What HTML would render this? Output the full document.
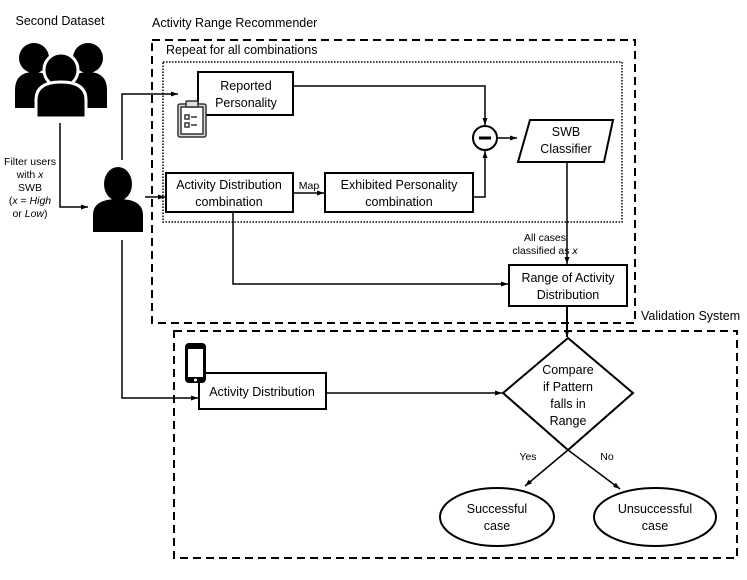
<!DOCTYPE html>
<html><head><meta charset="utf-8"><style>
body{margin:0;background:#fff}
svg{display:block}
text{font-family:"Liberation Sans",sans-serif;font-size:12.5px;fill:#000}
</style></head><body>
<svg width="747" height="580" viewBox="0 0 747 580" xmlns="http://www.w3.org/2000/svg">
<defs><marker id="a" markerWidth="8" markerHeight="8" refX="7" refY="4" orient="auto" markerUnits="userSpaceOnUse"><path d="M0,1.5 L7,4 L0,6.5 z" fill="#000"/></marker></defs>
<g fill="none" stroke="#000">
<rect x="152" y="40" width="483" height="283" stroke-width="2" stroke-dasharray="8,5"/>
<rect x="163" y="62" width="459" height="160" stroke-width="1.5" stroke-dasharray="1.5,1.5"/>
<rect x="174" y="331" width="563" height="227" stroke-width="2" stroke-dasharray="8,5"/>
<g stroke-width="2">
<rect x="198" y="72" width="95" height="43"/>
<rect x="166" y="173" width="127" height="39"/>
<rect x="325" y="173" width="148" height="39"/>
<rect x="509" y="265" width="118" height="41"/>
<rect x="199" y="373" width="127" height="36"/>
<polygon points="530,120 613,120 604,162 518,162"/>
<circle cx="485" cy="138" r="12"/>
<polygon points="568,338 633,393 568,450 503,393"/>
<ellipse cx="497" cy="517" rx="57" ry="29"/>
<ellipse cx="655" cy="517" rx="61" ry="29"/>
</g>
<g stroke-width="1.5">
<path d="M60,123 V207 H88" marker-end="url(#a)"/>
<path d="M122,160 V94 H178" marker-end="url(#a)"/>
<path d="M145,197 H165" marker-end="url(#a)"/>
<path d="M293,193 H324" marker-end="url(#a)"/>
<path d="M293,86 H485 V125" marker-end="url(#a)"/>
<path d="M473,197 H485 V151" marker-end="url(#a)"/>
<path d="M497,138 H517" marker-end="url(#a)"/>
<path d="M567,162 V264" marker-end="url(#a)"/>
<path d="M233,212 V284 H508" marker-end="url(#a)"/>
<path d="M567,306 V337" marker-end="url(#a)" stroke-width="2"/>
<path d="M122,240 V398 H198" marker-end="url(#a)"/>
<path d="M326,393 H502" marker-end="url(#a)"/>
<path d="M568,450 L525,486" marker-end="url(#a)"/>
<path d="M568,450 L620,489" marker-end="url(#a)"/>
</g>
</g>
<line x1="479" y1="138" x2="491" y2="138" stroke="#000" stroke-width="3"/>
<g fill="#000">
<circle cx="34" cy="58" r="15"/><path d="M15,108 V90 Q15,72 34,72 Q52,72 52,90 V108z"/>
<circle cx="88" cy="58" r="15"/><path d="M70,108 V90 Q70,72 88,72 Q107,72 107,90 V108z"/>
<circle cx="61" cy="70" r="17" stroke="#fff" stroke-width="3"/><path d="M36,118 V100 Q36,82 61,82 Q86,82 86,100 V118z" stroke="#fff" stroke-width="3"/>
<ellipse cx="118" cy="184" rx="14" ry="17"/><path d="M93,232 V215 Q93,199 118,199 Q143,199 143,215 V232z"/>
<rect x="185" y="343" width="21" height="40" rx="4"/>
</g>
<rect x="188" y="349" width="15" height="28" fill="#fff"/>
<circle cx="195.5" cy="380" r="1.5" fill="#fff"/>
<g fill="#fff" stroke="#333" stroke-width="1.5">
<rect x="178" y="104" width="28" height="33" rx="2" fill="#ddd"/>
<rect x="181" y="107" width="22" height="27" fill="#fff"/>
<rect x="186" y="101" width="12" height="6" rx="1" fill="#ddd"/>
<rect x="185" y="115" width="4" height="4"/><rect x="185" y="123" width="4" height="4"/>
<path d="M191,117 H197 M191,125 H197"/>
</g>
<text x="60" y="25" text-anchor="middle" font-size="13">Second Dataset</text>
<text x="152" y="27">Activity Range Recommender</text>
<text x="166" y="54">Repeat for all combinations</text>
<text x="641" y="320">Validation System</text>
<g text-anchor="middle">
<text x="30" y="165" style="font-size:10.5px">Filter users</text>
<text x="30" y="178" style="font-size:10.5px">with <tspan font-style="italic">x</tspan></text>
<text x="30" y="191" style="font-size:10.5px">SWB</text>
<text x="30" y="204" style="font-size:10.5px">(<tspan font-style="italic">x</tspan> = <tspan font-style="italic">High</tspan></text>
<text x="30" y="217" style="font-size:10.5px">or <tspan font-style="italic">Low</tspan>)</text>
<text x="309" y="189" style="font-size:10.5px">Map</text>
<text x="545" y="241" style="font-size:10.5px">All cases</text>
<text x="545" y="254" style="font-size:10.5px">classified as <tspan font-style="italic">x</tspan></text>
<text x="528" y="460" style="font-size:10.5px">Yes</text>
<text x="607" y="460" style="font-size:10.5px">No</text>
</g>
<g text-anchor="middle">
<text x="246" y="90">Reported</text><text x="246" y="107">Personality</text>
<text x="229" y="189">Activity Distribution</text><text x="229" y="206">combination</text>
<text x="399" y="189">Exhibited Personality</text><text x="399" y="206">combination</text>
<text x="566" y="136">SWB</text><text x="566" y="153">Classifier</text>
<text x="568" y="282">Range of Activity</text><text x="568" y="299">Distribution</text>
<text x="262" y="396">Activity Distribution</text>
<text x="568" y="374">Compare</text><text x="568" y="391">if Pattern</text><text x="568" y="408">falls in</text><text x="568" y="425">Range</text>
<text x="497" y="513">Successful</text><text x="497" y="530">case</text>
<text x="655" y="513">Unsuccessful</text><text x="655" y="530">case</text>
</g>
</svg>
</body></html>
